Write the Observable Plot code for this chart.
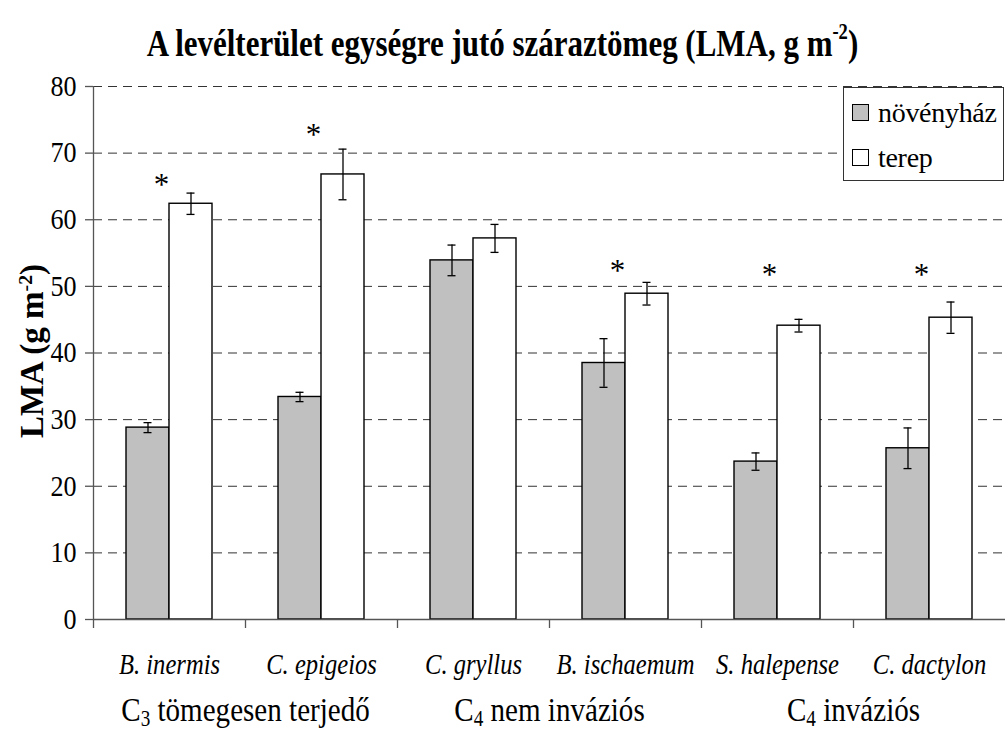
<!DOCTYPE html>
<html>
<head>
<meta charset="utf-8">
<script src="https://cdn.jsdelivr.net/npm/d3@7"></script>
<script src="https://cdn.jsdelivr.net/npm/@observablehq/plot@0.6"></script>
<style>
  body { margin: 0; background: #fff; }
  #wrap { position: relative; width: 1005px; height: 731px; color: #000; }
  #title { position: absolute; top: 13px; left: 0; width: 1005px; text-align: center; font-weight: bold; font-size: 38px; line-height: 38px; transform: scaleX(0.815); transform-origin: center; white-space: nowrap; }
  #title .sup { font-size: 0.6em; vertical-align: 0.75em; }
  #chart { position: absolute; top: 66px; left: 0; }
  #legend { position: absolute; left: 843px; top: 87px; width: 159px; height: 92px; border: 1px solid #333; background: #fff; }
  .sw { position: absolute; left: 8px; width: 15px; height: 15px; border: 1px solid #000; }
  .lt { position: absolute; left: 34px; font-size: 28px; line-height: 28px; white-space: nowrap; letter-spacing: -0.3px; }
</style>
</head>
<body>
<div id="wrap">
  <div id="title">A levélterület egységre jutó száraztömeg (LMA, g m<span class="sup">-2</span>)</div>
  <div id="chart"></div>
  <div id="legend"></div>
</div>
<script>
// ---- data ----
const species = ["B. inermis", "C. epigeios", "C. gryllus", "B. ischaemum", "S. halepense", "C. dactylon"];
const series = ["növényház", "terep"];
const greenhouse = [28.8, 33.4, 53.9, 38.5, 23.7, 25.7];
const greenhouseErr = [0.75, 0.7, 2.3, 3.65, 1.3, 3.05];
const field = [62.4, 66.8, 57.2, 48.9, 44.1, 45.3];
const fieldErr = [1.6, 3.8, 2.1, 1.7, 0.95, 2.35];
const significant = [true, true, false, true, true, true];
const starLevel = [66, 73.5, null, 53, 52.5, 52.5];
const groupLabels = ["C3 tömegesen terjedő", "C4 nem inváziós", "C4 inváziós"];
const groupSecondSpecies = ["C. epigeios", "B. ischaemum", "C. dactylon"];
const yTicks = [0, 10, 20, 30, 40, 50, 60, 70, 80];
const colors = ["#c0c0c0", "#ffffff"];

// pick an installed Times-like serif font
function hasFont(name) {
  const c = document.createElement("canvas").getContext("2d");
  const sample = "mmmmmmmmmmlliWWWabc0123";
  c.font = "40px monospace"; const a = c.measureText(sample).width;
  c.font = `40px '${name}', monospace`; const b = c.measureText(sample).width;
  c.font = "40px sans-serif"; const a2 = c.measureText(sample).width;
  c.font = `40px '${name}', sans-serif`; const b2 = c.measureText(sample).width;
  return a !== b || a2 !== b2;
}
const candidates = ["Liberation Serif", "Times New Roman", "Tinos", "Nimbus Roman", "FreeSerif", "DejaVu Serif"];
const serifName = candidates.find(hasFont) || "serif";
const FONT = `'${serifName}', serif`;
document.getElementById("wrap").style.fontFamily = FONT;

const rows = species.map((s, i) => ({
  species: s, gh: greenhouse[i], ghe: greenhouseErr[i], fd: field[i], fde: fieldErr[i],
  sig: significant[i], star: starLevel[i]
}));
const groups = groupLabels.map((g, i) => ({label: g, anchor: groupSecondSpecies[i]}));

const half = 76; // half band width (band = 152px)
const axisColor = "#555";

const chart = Plot.plot({
  width: 1005,
  height: 665,
  marginTop: 20,
  marginBottom: 112,
  marginLeft: 93,
  marginRight: 0,
  style: {fontFamily: FONT, fontSize: "28px", color: "#000", background: "#fff", overflow: "visible"},
  x: {domain: species, padding: 0, axis: null},
  y: {domain: [0, 80], axis: null},
  marks: [
    Plot.gridY(yTicks, {stroke: "#333", strokeOpacity: 1, strokeDasharray: "9,6", strokeWidth: 1}),
    Plot.barY(rows, {x: "species", y: "gh", fill: colors[0], stroke: "#000", strokeWidth: 1.4, insetLeft: 33, insetRight: 76}),
    Plot.barY(rows, {x: "species", y: "fd", fill: colors[1], stroke: "#000", strokeWidth: 1.4, insetLeft: 76, insetRight: 33}),
    Plot.ruleX(rows, {x: "species", y1: d => d.gh - d.ghe, y2: d => d.gh + d.ghe, dx: -21.5, stroke: "#000", strokeWidth: 1.3}),
    Plot.tickY(rows, {x: "species", y: d => d.gh + d.ghe, insetLeft: 50.5, insetRight: 93.5, stroke: "#000", strokeWidth: 1.3}),
    Plot.tickY(rows, {x: "species", y: d => d.gh - d.ghe, insetLeft: 50.5, insetRight: 93.5, stroke: "#000", strokeWidth: 1.3}),
    Plot.ruleX(rows, {x: "species", y1: d => d.fd - d.fde, y2: d => d.fd + d.fde, dx: 21.5, stroke: "#000", strokeWidth: 1.3}),
    Plot.tickY(rows, {x: "species", y: d => d.fd + d.fde, insetLeft: 93.5, insetRight: 50.5, stroke: "#000", strokeWidth: 1.3}),
    Plot.tickY(rows, {x: "species", y: d => d.fd - d.fde, insetLeft: 93.5, insetRight: 50.5, stroke: "#000", strokeWidth: 1.3}),
    Plot.text(rows.filter(d => d.sig), {x: "species", y: "star", text: () => "*", fontSize: 31, dx: -8, dy: 5}),
    Plot.ruleY([0], {stroke: axisColor, strokeWidth: 1.3}),
    Plot.ruleX([species[0]], {x: d => d, y1: 0, y2: 80, dx: -half, stroke: axisColor, strokeWidth: 1.3}),
    Plot.axisY({ticks: yTicks, tickSize: 8, tickPadding: 9, fontSize: 29, label: null, stroke: axisColor, strokeWidth: 1.3, className: "y-lab"}),
    Plot.axisX({tickSize: 9, tickFormat: () => "", dx: -half, label: null, stroke: axisColor, strokeWidth: 1.3}),
    Plot.axisX({tickSize: 0, tickPadding: 33, fontSize: 30, fontStyle: "italic", label: null, className: "sp-lab"}),
    Plot.text(groups, {x: "anchor", text: "label", frameAnchor: "bottom", dx: -half, dy: 77, lineAnchor: "top", fontSize: 34, className: "grp-lab"})
  ]
});

document.getElementById("chart").appendChild(chart);

function condense(el, s) {
  const t = el.getAttribute("transform") || "";
  el.setAttribute("transform", t + ` scale(${s},1)`);
  const x = el.getAttribute("x");
  if (x != null && x !== "" && !isNaN(+x)) el.setAttribute("x", +x / s);
}

d3.select(chart).selectAll(".grp-lab text").each(function() {
  const txt = this.textContent;
  const el = d3.select(this);
  el.text(null);
  el.append("tspan").text(txt[0]);
  el.append("tspan").attr("baseline-shift", "-22%").attr("font-size", "0.66em").text(txt[1]);
  el.append("tspan").text(txt.slice(2));
  condense(this, 0.855);
});
d3.select(chart).selectAll(".sp-lab text").each(function() { condense(this, 0.82); });
d3.select(chart).selectAll(".y-lab text").each(function() { condense(this, 0.9); });

const yl = d3.select(chart).append("text")
  .attr("transform", "translate(43,285) rotate(-90)")
  .attr("text-anchor", "middle")
  .attr("font-weight", "bold")
  .attr("font-size", 33)
  .attr("fill", "#000");
yl.append("tspan").text("LMA (g m");
yl.append("tspan").attr("baseline-shift", "super").attr("font-size", "0.6em").text("-2");
yl.append("tspan").text(")");

const legend = d3.select("#legend");
series.forEach((s, i) => {
  legend.append("div").attr("class", "sw").style("top", (16 + i * 45) + "px").style("background", colors[i]);
  legend.append("div").attr("class", "lt").style("top", (11 + i * 45) + "px").text(s);
});
</script>
</body>
</html>
